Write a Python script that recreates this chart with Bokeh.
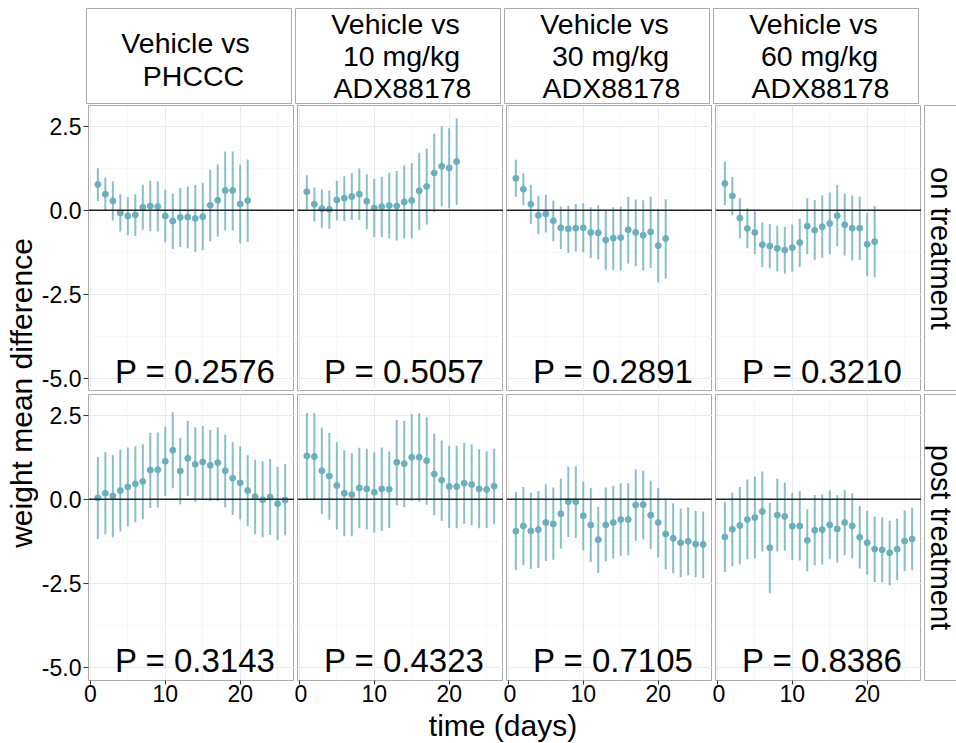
import math
from bokeh.plotting import figure
from bokeh.models import Range1d, LinearAxis, FixedTicker, Span, PrintfTickFormatter, ColumnDataSource
from bokeh.layouts import row, column
from bokeh.embed import file_html
from bokeh.resources import INLINE
from bokeh.core.properties import value

FONT = "Liberation Sans"
COLOR = "#6BAFBF"
BORDER = "#ABABAB"

# ---------------- data ----------------
days_on = [1, 2, 3, 4, 5, 6, 7, 8, 9, 10, 11, 12, 13, 14, 15, 16, 17, 18, 19, 20, 21]
days_post = [1, 2, 3, 4, 5, 6, 7, 8, 9, 10, 11, 12, 13, 14, 15, 16, 17, 18, 19, 20,
             21, 22, 23, 24, 25, 26]

column_titles = [["Vehicle vs", "PHCCC"],
                 ["Vehicle vs", "10 mg/kg", "ADX88178"],
                 ["Vehicle vs", "30 mg/kg", "ADX88178"],
                 ["Vehicle vs", "60 mg/kg", "ADX88178"]]
row_titles = ["on treatment", "post treatment"]

p_on = ["P = 0.2576", "P = 0.5057", "P = 0.2891", "P = 0.3210"]
p_post = ["P = 0.3143", "P = 0.4323", "P = 0.7105", "P = 0.8386"]

x_ticks = [0, 10, 20]
x_minor = [5, 15, 25]
y_ticks = [-5.0, -2.5, 0.0, 2.5]
y_minor = [-3.75, -1.25, 1.25]
p_label_x = 14
p_label_y = -5

# on treatment
on_phccc_mean = [0.77, 0.48, 0.28, -0.08, -0.17, -0.14, 0.09, 0.13, 0.11, -0.17, -0.32,
                 -0.21, -0.20, -0.24, -0.19, 0.15, 0.30, 0.59, 0.59, 0.19, 0.29]
on_phccc_lo = [0.28, -0.02, -0.30, -0.63, -0.74, -0.76, -0.58, -0.62, -0.63, -0.95, -1.15,
               -1.09, -1.13, -1.24, -1.19, -0.92, -0.78, -0.60, -0.60, -0.98, -0.94]
on_phccc_hi = [1.25, 0.97, 0.86, 0.48, 0.39, 0.48, 0.76, 0.87, 0.86, 0.61, 0.50,
               0.66, 0.71, 0.75, 0.82, 1.21, 1.37, 1.75, 1.75, 1.36, 1.51]

on_10_mean = [0.55, 0.18, 0.05, 0.03, 0.31, 0.36, 0.41, 0.48, 0.27, 0.07, 0.11,
              0.14, 0.13, 0.25, 0.29, 0.58, 0.71, 1.11, 1.31, 1.26, 1.45]
on_10_lo = [0.03, -0.33, -0.52, -0.55, -0.30, -0.32, -0.29, -0.29, -0.56, -0.80, -0.80,
            -0.84, -0.90, -0.84, -0.83, -0.58, -0.42, -0.06, 0.12, 0.06, 0.16]
on_10_hi = [1.04, 0.68, 0.62, 0.59, 0.88, 1.01, 1.10, 1.24, 1.07, 0.94, 1.00,
            1.12, 1.17, 1.33, 1.41, 1.71, 1.84, 2.28, 2.50, 2.44, 2.73]

on_30_mean = [0.95, 0.63, 0.18, -0.15, -0.11, -0.31, -0.52, -0.55, -0.53, -0.52, -0.66,
              -0.67, -0.88, -0.83, -0.81, -0.58, -0.66, -0.74, -0.64, -1.05, -0.84]
on_30_lo = [0.40, 0.15, -0.41, -0.71, -0.66, -0.92, -1.15, -1.26, -1.23, -1.25, -1.42,
            -1.46, -1.77, -1.77, -1.79, -1.58, -1.66, -1.79, -1.71, -2.15, -2.03]
on_30_hi = [1.50, 1.10, 0.75, 0.42, 0.46, 0.29, 0.11, 0.14, 0.19, 0.21, 0.09,
            0.15, 0.00, 0.09, 0.11, 0.40, 0.32, 0.30, 0.40, 0.04, 0.33]

on_60_mean = [0.80, 0.43, -0.23, -0.54, -0.66, -1.02, -1.06, -1.13, -1.18, -1.11, -0.96,
              -0.47, -0.59, -0.49, -0.39, -0.16, -0.43, -0.53, -0.53, -1.01, -0.93]
on_60_lo = [0.16, -0.15, -0.83, -1.13, -1.30, -1.69, -1.73, -1.82, -1.88, -1.82, -1.69,
            -1.30, -1.47, -1.41, -1.31, -1.07, -1.34, -1.49, -1.48, -1.96, -1.99]
on_60_hi = [1.45, 0.99, 0.37, 0.06, -0.03, -0.36, -0.41, -0.46, -0.49, -0.42, -0.25,
            0.36, 0.31, 0.44, 0.53, 0.75, 0.50, 0.44, 0.41, -0.07, 0.13]

# post treatment
post_phccc_mean = [0.04, 0.18, 0.10, 0.26, 0.37, 0.46, 0.53, 0.87, 0.88, 1.13, 1.46, 0.84, 1.22,
                   1.04, 1.11, 1.01, 1.09, 0.85, 0.63, 0.49, 0.26, 0.08, -0.01, 0.07, -0.13, -0.02]
post_phccc_lo = [-1.19, -1.04, -1.13, -0.96, -0.81, -0.68, -0.59, -0.26, -0.24, 0.10, 0.33, -0.15, 0.10,
                 -0.07, 0.02, -0.05, -0.05, -0.24, -0.46, -0.60, -0.79, -1.03, -1.13, -1.06, -1.22, -1.07]
post_phccc_hi = [1.26, 1.40, 1.31, 1.48, 1.54, 1.58, 1.64, 1.97, 1.99, 2.16, 2.59, 1.83, 2.33,
                 2.14, 2.18, 2.06, 2.14, 1.93, 1.70, 1.57, 1.31, 1.18, 1.13, 1.20, 0.97, 1.04]

post_10_mean = [1.29, 1.27, 0.85, 0.69, 0.41, 0.18, 0.14, 0.34, 0.31, 0.21, 0.31, 0.30, 1.10,
                1.06, 1.25, 1.25, 1.15, 0.75, 0.57, 0.38, 0.38, 0.48, 0.44, 0.31, 0.29, 0.39]
post_10_lo = [0.00, -0.03, -0.44, -0.61, -0.90, -1.10, -1.10, -0.86, -0.90, -0.99, -0.94, -0.85, -0.18,
              -0.23, -0.05, -0.07, -0.16, -0.47, -0.64, -0.85, -0.86, -0.73, -0.77, -0.86, -0.85, -0.74]
post_10_hi = [2.57, 2.57, 2.13, 1.97, 1.70, 1.46, 1.37, 1.53, 1.50, 1.40, 1.54, 1.42, 2.36,
              2.33, 2.54, 2.56, 2.44, 1.96, 1.75, 1.59, 1.59, 1.68, 1.63, 1.49, 1.42, 1.50]

post_30_mean = [-0.95, -0.79, -0.94, -0.90, -0.69, -0.73, -0.43, -0.07, -0.07, -0.49, -0.76, -1.20, -0.76,
                -0.69, -0.60, -0.60, -0.17, -0.16, -0.47, -0.69, -1.03, -1.16, -1.29, -1.25, -1.33, -1.34]
post_30_lo = [-2.11, -1.96, -2.07, -2.04, -1.83, -1.80, -1.47, -1.12, -1.14, -1.52, -1.86, -2.19, -1.84,
              -1.76, -1.68, -1.67, -1.23, -1.19, -1.48, -1.73, -2.08, -2.20, -2.32, -2.26, -2.32, -2.34]
post_30_hi = [0.22, 0.37, 0.20, 0.25, 0.45, 0.35, 0.61, 0.97, 0.98, 0.53, 0.34, -0.22, 0.35,
              0.40, 0.48, 0.48, 0.89, 0.85, 0.55, 0.34, 0.02, -0.12, -0.27, -0.24, -0.35, -0.36]

post_60_mean = [-1.12, -0.89, -0.78, -0.60, -0.54, -0.36, -1.44, -0.47, -0.51, -0.80, -0.79, -1.22, -0.92,
                -0.90, -0.76, -0.88, -0.69, -0.79, -1.13, -1.29, -1.48, -1.50, -1.59, -1.48, -1.24, -1.18]
post_60_lo = [-2.16, -1.99, -1.93, -1.78, -1.75, -1.55, -2.79, -1.55, -1.53, -1.80, -1.82, -2.14, -1.97,
              -1.94, -1.78, -1.88, -1.66, -1.75, -2.06, -2.24, -2.46, -2.47, -2.56, -2.40, -2.14, -2.11]
post_60_hi = [-0.07, 0.20, 0.37, 0.59, 0.68, 0.83, -0.11, 0.62, 0.50, 0.19, 0.25, -0.30, 0.13,
              0.14, 0.27, 0.12, 0.27, 0.18, -0.20, -0.34, -0.51, -0.54, -0.64, -0.57, -0.33, -0.25]

panels = [
    [(days_on, on_phccc_mean, on_phccc_lo, on_phccc_hi, p_on[0]),
     (days_on, on_10_mean, on_10_lo, on_10_hi, p_on[1]),
     (days_on, on_30_mean, on_30_lo, on_30_hi, p_on[2]),
     (days_on, on_60_mean, on_60_lo, on_60_hi, p_on[3])],
    [(days_post, post_phccc_mean, post_phccc_lo, post_phccc_hi, p_post[0]),
     (days_post, post_10_mean, post_10_lo, post_10_hi, p_post[1]),
     (days_post, post_30_mean, post_30_lo, post_30_hi, p_post[2]),
     (days_post, post_60_mean, post_60_lo, post_60_hi, p_post[3])],
]

# shared scales (ggplot-like 5% expansion)
all_x = days_on + days_post
xmin, xmax = min(all_x), max(all_x)
xpad = (xmax - xmin) * 0.05
x_range = (xmin - xpad, xmax + xpad)
all_hi = [v for r in panels for pn in r for v in pn[3]]
all_lo = [v for r in panels for pn in r for v in pn[2]] + [p_label_y]
ymin, ymax = min(all_lo), max(all_hi)
ypad = (ymax - ymin) * 0.05
y_range = (ymin - ypad, ymax + ypad)

# ---------------- layout sizes ----------------
FW, FH = 206, 286
LEFT = 48
GAP = 3
TOP_PAD = 8
STRIP_H = 96
RSTRIP_W = 33
YLAB_W = 38
XAX_H = 29
XLAB_H = 34
TOTAL_H = TOP_PAD + STRIP_H + 1 + FH + GAP + FH + XAX_H + XLAB_H
P_SHIFT_PX = -7.5   # nudge the P label up so its text box stays inside the panel


def base_fig(fw, fh, xr, yr, left=0, top=0, bottom=0, right=0, outline=BORDER):
    f = figure(frame_width=fw, frame_height=fh, x_range=Range1d(*xr), y_range=Range1d(*yr),
               x_axis_location=None, y_axis_location=None, output_backend="svg",
               toolbar_location=None, min_border=0, min_border_left=left,
               min_border_top=top, min_border_bottom=bottom, min_border_right=right,
               background_fill_color="white", border_fill_color="white",
               outline_line_color=outline)
    return f


def style_axis(ax, tick_out, standoff):
    ax.axis_line_color = None
    ax.major_tick_line_color = "#333333"
    ax.major_tick_in = 0
    ax.major_tick_out = tick_out
    ax.minor_tick_line_color = None
    ax.major_label_text_font = FONT
    ax.major_label_text_font_size = "23px"
    ax.major_label_text_color = "black"
    ax.major_label_standoff = standoff


def make_panel(r, c, days, mean, lo, hi, ptext):
    left = LEFT if c == 0 else GAP
    top = 1 if r == 0 else GAP
    bottom = XAX_H if r == 1 else 0
    p = base_fig(FW, FH, x_range, y_range, left=left, top=top, bottom=bottom)
    p.outline_line_width = 1
    p.xgrid.ticker = FixedTicker(ticks=x_ticks, minor_ticks=x_minor)
    p.ygrid.ticker = FixedTicker(ticks=y_ticks, minor_ticks=y_minor)
    for g in (p.xgrid[0], p.ygrid[0]):
        g.grid_line_color = "#EBEBEB"
        g.grid_line_width = 1
        g.minor_grid_line_color = "#F3F3F3"
        g.minor_grid_line_width = 0.6

    if c == 0:
        ax = LinearAxis(ticker=FixedTicker(ticks=y_ticks),
                        formatter=PrintfTickFormatter(format="%.1f"))
        style_axis(ax, 5, 2)
        p.add_layout(ax, "left")
    if r == 1:
        ax = LinearAxis(ticker=FixedTicker(ticks=x_ticks))
        style_axis(ax, 4, 0)
        p.add_layout(ax, "below")

    p.add_layout(Span(location=0, dimension="width", line_color="#222222", line_width=1.4))
    src = ColumnDataSource(dict(day=days, mean=mean, lo=lo, hi=hi))
    p.segment(x0="day", y0="lo", x1="day", y1="hi", source=src,
              line_color=COLOR, line_alpha=0.8, line_width=2)
    p.scatter(x="day", y="mean", source=src, size=6, fill_color=COLOR,
              line_color=COLOR)
    p.text(x=[p_label_x], y=[p_label_y], text=[ptext], text_align="center",
           text_baseline="middle", y_offset=P_SHIFT_PX, text_font=value(FONT),
           text_font_size=value("33px"), text_color="black")
    return p


def make_strip(c, lines):
    left = LEFT if c == 0 else GAP
    s = base_fig(FW, STRIP_H, (0, FW), (0, STRIP_H), left=left, top=TOP_PAD)
    s.grid.visible = False
    if len(lines) == 2:
        ys = [62, 29]
        offs = [-4, 4]
    else:
        ys = [80.5, 48.5, 16.5]
        offs = [-3, 3, 4]
    s.text(x=[FW / 2 + o for o in offs], y=ys, text=lines, text_align="center",
           text_baseline="middle", text_font=value(FONT),
           text_font_size=value("28.5px"), text_color="black")
    return s


def make_rstrip(r, label):
    top = 1 if r == 0 else GAP
    s = base_fig(RSTRIP_W, FH, (0, RSTRIP_W), (0, FH), left=GAP, top=top,
                 bottom=(XAX_H if r == 1 else 0))
    s.grid.visible = False
    s.text(x=[RSTRIP_W / 2], y=[FH / 2], text=[label], angle=-math.pi / 2,
           text_align="center", text_baseline="middle", text_font=value(FONT),
           text_font_size=value("29px"), text_color="black")
    return s


strip_row = row([make_strip(c, column_titles[c]) for c in range(4)])
rows = []
for r in range(2):
    figs = [make_panel(r, c, *panels[r][c]) for c in range(4)]
    figs.append(make_rstrip(r, row_titles[r]))
    rows.append(row(figs))

total_panel_w = LEFT + 4 * FW + 3 * GAP
xl = base_fig(total_panel_w, XLAB_H, (0, total_panel_w), (0, XLAB_H), outline=None)
xl.grid.visible = False
xl.text(x=[LEFT + (4 * FW + 3 * GAP) / 2], y=[18], text=["time (days)"],
        text_align="center", text_baseline="middle", text_font=value(FONT),
        text_font_size=value("30px"), text_color="black")

yl = base_fig(YLAB_W, TOTAL_H, (0, YLAB_W), (0, TOTAL_H), outline=None)
yl.grid.visible = False
row_center_from_top = TOP_PAD + STRIP_H + 1 + (FH * 2 + GAP) / 2
yl.text(x=[21], y=[TOTAL_H - row_center_from_top], text=["weight mean difference"],
        angle=math.pi / 2, text_align="center", text_baseline="middle",
        text_font=value(FONT), text_font_size=value("30px"), text_color="black")

layout = row(yl, column(strip_row, rows[0], rows[1], xl))

open("out.html", "w").write(file_html(layout, INLINE))
